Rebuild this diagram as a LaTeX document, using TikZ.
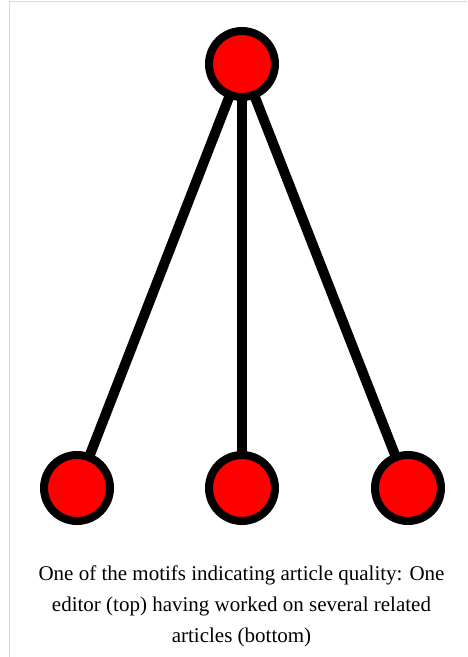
\documentclass[tikz,border=0pt]{standalone}
\usepackage{fontspec}
\setmainfont{Liberation Serif}
\begin{document}
\begin{tikzpicture}[x=1pt,y=-1pt,
  vertex/.style={circle,draw=black,fill=red,line width=8pt,minimum size=66pt,inner sep=0pt},
  edge/.style={line width=10pt,black},
  frame/.style={draw=black!15,line width=1.5pt}]
\useasboundingbox (0,0) rectangle (467,657);
\draw[frame] (9.5,657) -- (9.5,1.5) -- (467,1.5);
\coordinate (T) at (242,64);
\coordinate (L) at (77,488);
\coordinate (M) at (242,488);
\coordinate (R) at (408,488);
\draw[edge] (T) -- (L);
\draw[edge] (T) -- (M);
\draw[edge] (T) -- (R);
\node[vertex] (top) at (T) {};
\node[vertex] (left) at (L) {};
\node[vertex] (mid) at (M) {};
\node[vertex] (right) at (R) {};
\node[anchor=base,align=center,font=\fontsize{21}{31}\selectfont,inner sep=0pt] (cap) at (241.5,642)
  {One of the motifs indicating article quality: One\\editor (top) having worked on several related\\articles (bottom)};
\end{tikzpicture}
\end{document}
